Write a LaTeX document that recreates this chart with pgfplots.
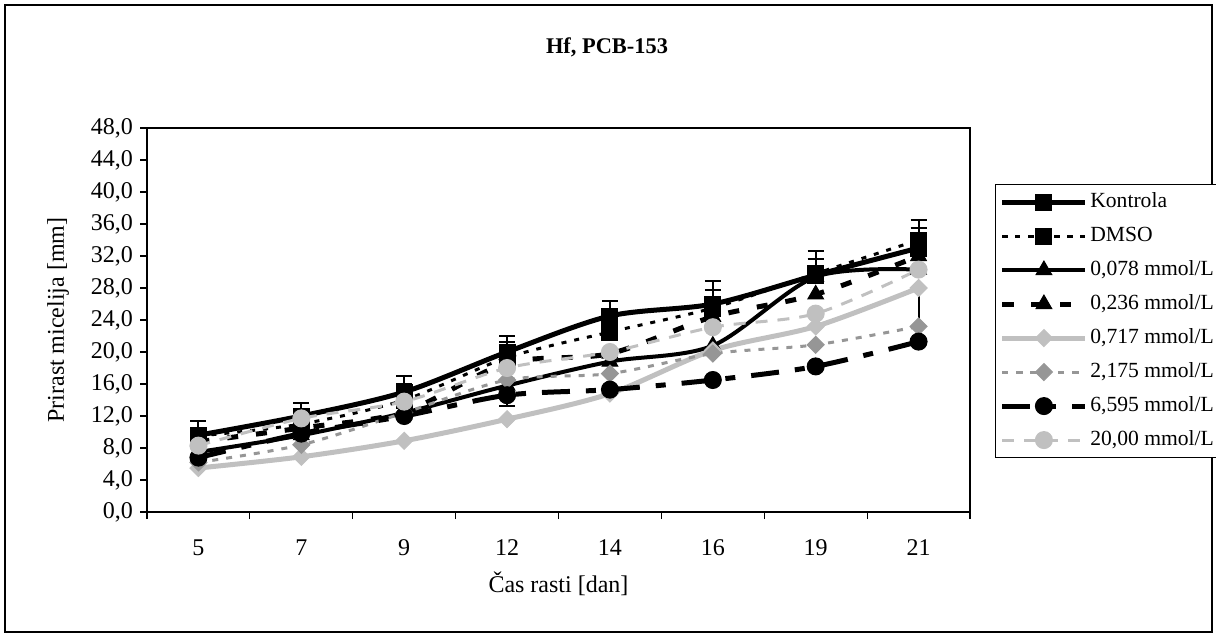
\documentclass[border=0pt]{standalone}
\usepackage{fontspec}
\setmainfont{Liberation Serif}
\usepackage{pgfplots}
\pgfplotsset{compat=1.18}
\definecolor{lgray}{HTML}{C0C0C0}
\definecolor{mgray}{HTML}{969696}
\begin{document}
\begin{tikzpicture}[x=0.5pt,y=-0.5pt,font=\fontsize{12}{14}\selectfont]
\path[use as bounding box] (0,0) rectangle (1216,637);
\draw[line width=0.6pt] (5,5) rectangle (1212,632);
\node[font=\fontsize{11.2}{13}\selectfont\bfseries] at (607,47) {Hf, PCB-153};
\begin{axis}[
  at={(73.5pt,-256pt)}, anchor=south west,
  scale only axis, width=411.5pt, height=192pt,
  xmin=-0.5, xmax=7.5, ymin=0, ymax=48,
  axis line style={line width=1pt},
  tick align=outside,
  xtick={0,...,7},
  xticklabels={5,7,9,12,14,16,19,21},
  major x tick style={draw=none},
  minor xtick={-0.5,0.5,...,7.5},
  minor tick length=3.5pt,
  xtick pos=bottom, ytick pos=left,
  ytick={0,4,...,48},
  major tick length=3.5pt,
  tick style={black, line width=0.6pt},
  tick label style={font=\fontsize{12}{14}\selectfont},
  label style={font=\fontsize{12}{14}\selectfont},
  yticklabel style={/pgf/number format/.cd, fixed, fixed zerofill, precision=1, use comma, assume math mode=true},
  xticklabel style={/pgf/number format/assume math mode=true, yshift=-7pt},
  xlabel={Čas rasti [dan]},
  every axis x label/.style={at={(rel axis cs:0.5,-0.1875)}, anchor=center},
  ylabel={Prirast micelija [mm]},
  every axis y label/.style={at={(rel axis cs:-0.1081,0.5)}, rotate=90, anchor=center},
  legend cell align=left,
  legend style={at={(rel axis cs:1.0304,0.854)}, anchor=north west, draw=black, line width=0.5pt,
    inner xsep=2.2pt, inner ysep=3.5pt, row sep=6.5pt,
    nodes={inner xsep=1.2pt, inner ysep=0pt, text height=8pt, text depth=2.5pt},
    font=\fontsize{10.8}{13}\selectfont},
  legend image code/.code={\draw[mark repeat=2, mark phase=2, #1] plot coordinates {(0pt,0pt) (20.75pt,0pt) (41.5pt,0pt)};},
]
% Kontrola
\addplot[black, line width=2.5pt, smooth, mark=square*, mark size=4pt, mark options={solid, line width=0.5pt},
  error bars/.cd, y dir=plus, y explicit,
  error bar style={solid, black, line width=1pt},
  error mark options={solid, black, line width=1pt, mark size=4pt, rotate=90}] coordinates {
  (0,9.6) += (0,1.8) (1,12.0) += (0,1.6) (2,15.0) += (0,2.0) (3,20.0) += (0,2.0)
  (4,24.5) += (0,1.9) (5,26.0) += (0,2.9) (6,29.6) += (0,3.0) (7,33.0) += (0,3.5)};
\addlegendentry{Kontrola}
% DMSO
\addplot[black, line width=1.5pt, dash pattern=on 2.5pt off 4pt, smooth, mark=square*, mark size=4pt, mark options={solid, line width=0.5pt},
  error bars/.cd, y dir=plus, y explicit,
  error bar style={solid, black, line width=1pt},
  error mark options={solid, black, line width=1pt, mark size=4pt, rotate=90}] coordinates {
  (0,9.5) += (0,1.0) (1,11.0) += (0,1.8) (2,14.0) += (0,2.0) (3,19.3) += (0,2.0)
  (4,22.5) += (0,1.5) (5,25.5) += (0,2.2) (6,29.8) += (0,1.8) (7,34.0) += (0,1.5)};
\addlegendentry{DMSO}
% 0,078
\addplot[black, line width=2pt, smooth, mark=triangle*, mark size=4.5pt, mark options={solid, line width=0.5pt}] coordinates {
  (0,7.5) (1,9.6) (2,12.4) (3,15.8) (4,18.8) (5,20.8) (6,29.4) (7,30.3)};
\addlegendentry{0,078 mmol/L}
% 0,236
\addplot[black, line width=2.5pt, dash pattern=on 5.5pt off 9pt, smooth, mark=triangle*, mark size=4.5pt, mark options={solid, line width=0.5pt}] coordinates {
  (0,8.8) (1,10.5) (2,12.5) (3,18.6) (4,19.8) (5,24.4) (6,27.2) (7,32.0)};
\addlegendentry{0,236 mmol/L}
% 0,717
\addplot[lgray, line width=2.5pt, smooth, mark=square*, mark size=3pt, mark options={solid, rotate=45, line width=0.5pt, fill=lgray}] coordinates {
  (0,5.5) (1,6.9) (2,8.9) (3,11.6) (4,14.8) (5,20.2) (6,23.2) (7,28.0)};
\addlegendentry{0,717 mmol/L}
% 2,175
\addplot[mgray, line width=1.5pt, dash pattern=on 3pt off 4pt, smooth, mark=square*, mark size=3pt, mark options={solid, rotate=45, line width=0.5pt, fill=mgray}] coordinates {
  (0,6.2) (1,8.4) (2,12.4) (3,16.5) (4,17.3) (5,19.8) (6,20.9) (7,23.2)};
\addlegendentry{2,175 mmol/L}
% 6,595
\addplot[black, line width=2.5pt, dash pattern=on 14pt off 8pt on 5pt off 8pt, smooth, mark=*, mark size=4.25pt, mark options={solid, line width=0.5pt},
  error bars/.cd, y dir=both, y explicit,
  error bar style={solid, black, line width=1pt},
  error mark options={solid, black, line width=1pt, mark size=4pt, rotate=90}] coordinates {
  (0,6.8) (1,9.8) (2,12.0) (3,14.6) -= (0,1.4) (4,15.3) (5,16.5) (6,18.2) (7,21.3) += (0,6.7)};
\addlegendentry{6,595 mmol/L}
% 20,00
\addplot[lgray, line width=1.5pt, dash pattern=on 6pt off 5pt, smooth, mark=*, mark size=4.25pt, mark options={solid, line width=0.5pt, fill=lgray}] coordinates {
  (0,8.3) (1,11.7) (2,13.8) (3,18.0) (4,20.0) (5,23.1) (6,24.8) (7,30.3)};
\addlegendentry{20,00 mmol/L}
\end{axis}
\end{tikzpicture}
\end{document}
